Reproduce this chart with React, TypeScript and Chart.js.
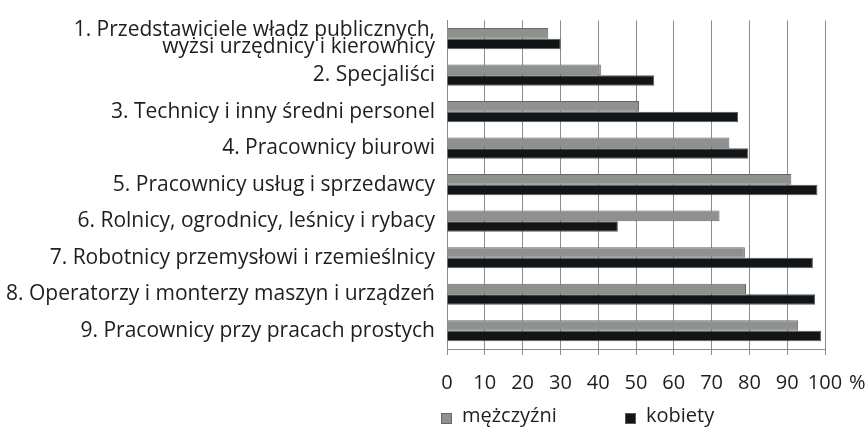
import React, { useEffect, useRef } from "react";
import { Chart, registerables } from "chart.js";

Chart.register(...registerables);

const categories: (string | string[])[] = [
  ["1. Przedstawiciele władz publicznych,", "wyżsi urzędnicy i kierownicy"],
  "2. Specjaliści",
  "3. Technicy i inny średni personel",
  "4. Pracownicy biurowi",
  "5. Pracownicy usług i sprzedawcy",
  "6. Rolnicy, ogrodnicy, leśnicy i rybacy",
  "7. Robotnicy przemysłowi i rzemieślnicy",
  "8. Operatorzy i monterzy maszyn i urządzeń",
  "9. Pracownicy przy pracach prostych",
];
const mezczyzni = [26.8, 40.7, 50.8, 74.7, 91.1, 72.1, 78.8, 79.1, 92.9];
const kobiety = [30.1, 54.8, 77.0, 79.7, 98.0, 45.2, 96.8, 97.4, 99.0];
const seriesLabels = ["mężczyźni", "kobiety"];
const tickUnit = "%";

const FONT = "'Open Sans', sans-serif";

const overlayPlugin = {
  id: "overlay",
  afterDraw(chart: any) {
    const { ctx, chartArea } = chart;
    ctx.save();
    // percent sign after last tick
    ctx.font = `20px ${FONT}`;
    ctx.fillStyle = "#1e1e1e";
    ctx.textBaseline = "middle";
    ctx.textAlign = "left";
    ctx.fillText(tickUnit, chartArea.right + 24, chartArea.bottom + 34);
    // legend
    const items = [
      { x: chartArea.left - 6, ds: chart.data.datasets[0] },
      { x: chartArea.left + 178, ds: chart.data.datasets[1] },
    ];
    const y = chartArea.bottom + 64;
    for (const it of items) {
      ctx.fillStyle = it.ds.backgroundColor;
      ctx.fillRect(it.x, y, 11, 11);
      ctx.strokeStyle = it.ds.borderColor;
      ctx.lineWidth = 1;
      ctx.strokeRect(it.x + 0.5, y + 0.5, 10, 10);
      ctx.fillStyle = "#1e1e1e";
      ctx.textAlign = "left";
      ctx.textBaseline = "middle";
      ctx.fillText(it.ds.label, it.x + 21, y + 3);
    }
    ctx.restore();
  },
};

export default function App() {
  const ref = useRef<HTMLCanvasElement>(null);
  useEffect(() => {
    if (!ref.current) return;
    const chart = new Chart(ref.current, {
      type: "bar",
      data: {
        labels: categories,
        datasets: [
          {
            label: seriesLabels[0],
            data: mezczyzni,
            backgroundColor: "#8f918f",
            borderColor: "#666866",
            borderWidth: 1,
          },
          {
            label: seriesLabels[1],
            data: kobiety,
            backgroundColor: "#111517",
            borderColor: "#585a5a",
            borderWidth: 1,
          },
        ],
      },
      options: {
        indexAxis: "y",
        responsive: false,
        animation: false,
        datasets: {
          bar: { categoryPercentage: 0.58, barPercentage: 1.0 },
        },
        layout: { padding: { top: 17, right: 43, bottom: 36, left: 0 } },
        plugins: {
          legend: { display: false },
          tooltip: { enabled: false },
        },
        scales: {
          x: {
            min: 0,
            max: 100,
            ticks: {
              stepSize: 10,
              color: "#1e1e1e",
              font: { family: FONT, size: 20 },
              padding: 16,
              maxRotation: 0,
              minRotation: 0,
              autoSkip: false,
            },
            grid: {
              color: "#8c8c8c",
              lineWidth: 1,
              tickLength: 6,
              drawTicks: true,
            },
            border: { display: true, color: "#8c8c8c" },
            afterFit(scale: any) {
              scale.height = 44;
            },
          },
          y: {
            ticks: {
              color: "#1e1e1e",
              font: { family: FONT, size: 21, lineHeight: 0.8 },
              padding: 12,
              autoSkip: false,
            },
            grid: { display: false, drawTicks: false },
            border: { display: true, color: "#8c8c8c" },
            afterFit(scale: any) {
              scale.width = 447;
            },
          },
        },
      },
      plugins: [overlayPlugin],
    });
    return () => chart.destroy();
  }, []);
  return (
    <div style={{ position: "fixed", left: 0, top: 0, width: 868, height: 429, background: "#fff" }}>
      <canvas ref={ref} width={868} height={429} />
    </div>
  );
}
